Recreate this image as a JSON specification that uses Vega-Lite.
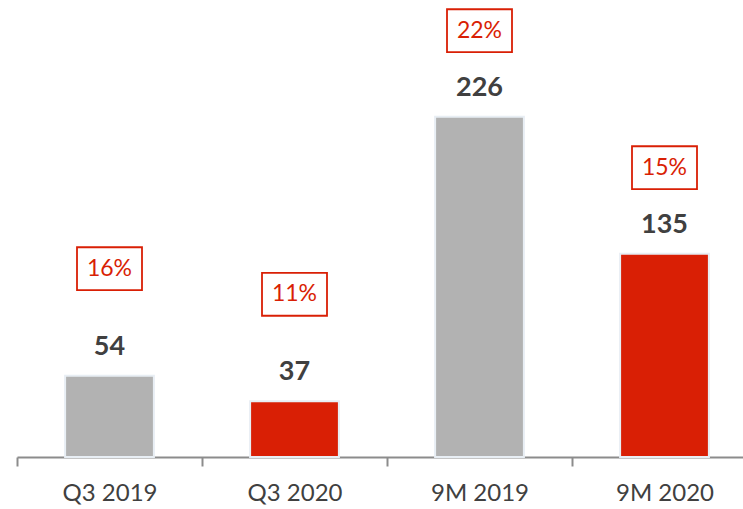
{
  "$schema": "https://vega.github.io/schema/vega-lite/v6.json",
  "autosize": "none",
  "padding": {"left": 17, "top": 0, "right": 0, "bottom": 52},
  "width": 740,
  "height": 457,
  "background": "white",
  "data": {
    "values": [
      {"period": "Q3 2019", "value": 54, "pct": "16%", "type": "2019", "group": "Q3"},
      {"period": "Q3 2020", "value": 37, "pct": "11%", "type": "2020", "group": "Q3"},
      {"period": "9M 2019", "value": 226, "pct": "22%", "type": "2019", "group": "9M"},
      {"period": "9M 2020", "value": 135, "pct": "15%", "type": "2020", "group": "9M"}
    ]
  },
  "encoding": {
    "x": {
      "field": "period",
      "type": "nominal",
      "sort": null,
      "scale": {"paddingInner": 0, "paddingOuter": 0},
      "axis": {
        "title": null,
        "labelAngle": 0,
        "tickBand": "extent",
        "domainColor": "#8c8c8c",
        "domainWidth": 2,
        "tickColor": "#8c8c8c",
        "tickWidth": 2,
        "tickSize": 9,
        "labelPadding": 15,
        "labelFont": "Lato",
        "labelFontSize": 24,
        "labelColor": "#404040"
      }
    },
    "y": {
      "field": "value",
      "type": "quantitative",
      "scale": {"domain": [0, 303.5], "nice": false},
      "axis": null
    }
  },
  "layer": [
    {
      "mark": {"type": "bar", "width": {"band": 0.48}, "stroke": "#e8eef4", "strokeWidth": 2},
      "encoding": {
        "color": {
          "field": "type",
          "type": "nominal",
          "scale": {"domain": ["2019", "2020"], "range": ["#b2b2b2", "#d91f05"]},
          "legend": null
        }
      }
    },
    {
      "mark": {"type": "text", "baseline": "middle", "dy": -29, "font": "Lato", "fontWeight": "bold", "fontSize": 27, "color": "#404040"},
      "encoding": {"text": {"field": "value"}}
    },
    {
      "transform": [{"filter": "datum.group === 'Q3'"}],
      "layer": [
        {
          "mark": {"type": "point", "shape": "M-1,-0.66L1,-0.66L1,0.66L-1,0.66Z", "size": 4225, "filled": false, "stroke": "#d91f05", "strokeWidth": 1.8, "opacity": 1, "yOffset": -107},
          "encoding": {}
        },
        {
          "mark": {"type": "text", "baseline": "middle", "dy": -107, "font": "Lato", "fontSize": 23, "color": "#d91f05"},
          "encoding": {"text": {"field": "pct"}}
        }
      ]
    },
    {
      "transform": [{"filter": "datum.group === '9M'"}],
      "layer": [
        {
          "mark": {"type": "point", "shape": "M-1,-0.66L1,-0.66L1,0.66L-1,0.66Z", "size": 4225, "filled": false, "stroke": "#d91f05", "strokeWidth": 1.8, "opacity": 1, "yOffset": -86},
          "encoding": {}
        },
        {
          "mark": {"type": "text", "baseline": "middle", "dy": -86, "font": "Lato", "fontSize": 23, "color": "#d91f05"},
          "encoding": {"text": {"field": "pct"}}
        }
      ]
    }
  ],
  "config": {"view": {"stroke": null}}
}
